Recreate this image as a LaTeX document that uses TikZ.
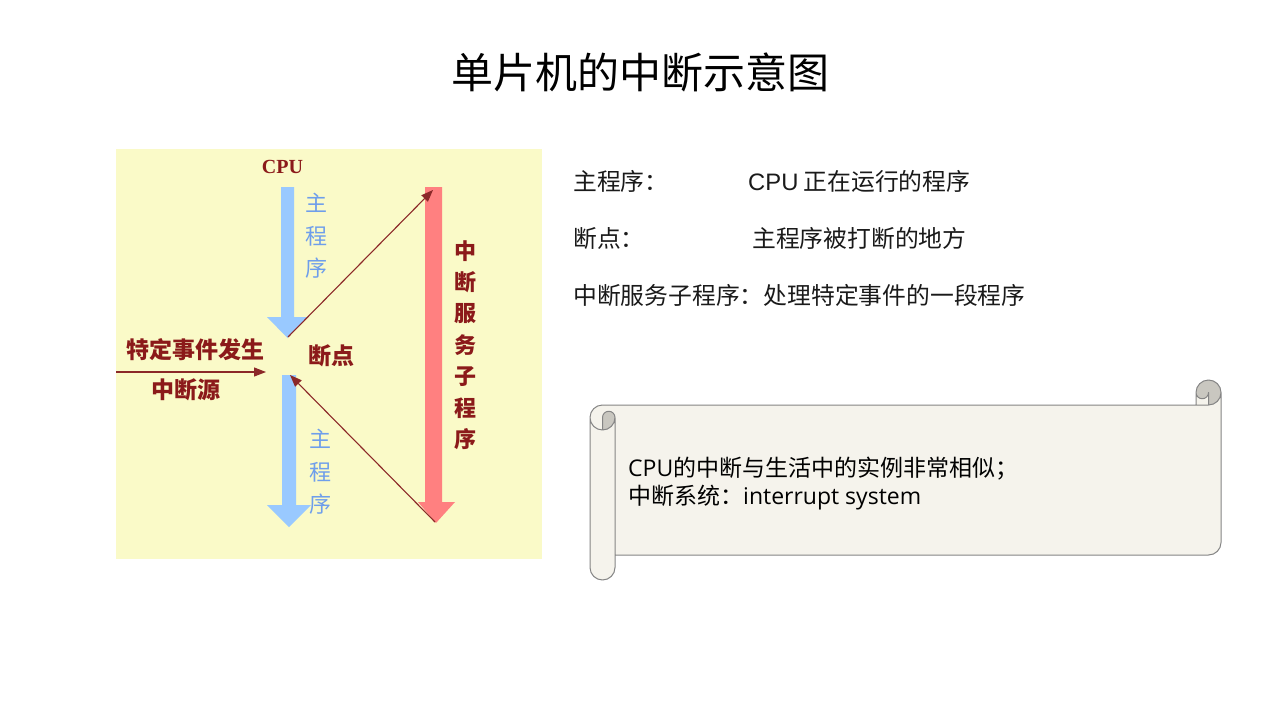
\documentclass[tikz,border=0pt]{standalone}
\usepackage{fontspec}
\setmainfont{Noto Sans CJK SC}
\newfontfamily\cpufont{Liberation Serif}
\newfontfamily\latfont{Open Sans}
\newfontfamily\arialfont{Liberation Sans}
\usetikzlibrary{arrows.meta}
\definecolor{panel}{HTML}{FAFAC8}
\definecolor{mainblue}{HTML}{99C9FF}
\definecolor{labblue}{HTML}{6E9EEB}
\definecolor{svcred}{HTML}{FF8080}
\definecolor{darkred}{HTML}{8B1A1A}
\definecolor{linered}{HTML}{8B2828}
\definecolor{scrollfill}{HTML}{F5F3EC}
\definecolor{scrolldark}{HTML}{C9C7C0}
\definecolor{scrollline}{HTML}{858585}
\definecolor{txt}{HTML}{1A1A1A}
\begin{document}
\begin{tikzpicture}[x=1pt,y=-1pt,
  bluelab/.style={text=labblue, align=center, inner sep=0pt, font=\fontsize{22}{32.5}\selectfont},
  redlab/.style={text=darkred, align=center, inner sep=0pt, font=\bfseries\fontsize{22}{31.4}\selectfont},
  evlab/.style={text=darkred, inner sep=0pt, font=\bfseries\fontsize{23}{23}\selectfont},
  rtext/.style={text=txt, anchor=west, inner sep=0pt, font=\fontsize{23.8}{24}\selectfont},
  sctext/.style={text=black, anchor=north west, align=left, inner sep=0pt, font=\fontsize{23}{28}\selectfont},
  conn/.style={draw=linered, line width=1.1pt, -{Triangle[length=12pt,width=9pt]}}]
\useasboundingbox (0,0) rectangle (1280,720);
\fill[white] (0,0) rectangle (1280,720);
% title
\node[inner sep=0pt, font=\fontsize{42}{42}\selectfont] (title) at (640,72) {单片机的中断示意图};
% panel
\fill[panel] (116,149) rectangle (542,559);
% blue arrows
\fill[mainblue] (281,187) -- (294,187) -- (294,317) -- (308,317) -- (287.5,338) -- (267,317) -- (281,317) -- cycle;
\fill[mainblue] (282,375) -- (296,375) -- (296,505) -- (311,505) -- (289,527) -- (267,505) -- (282,505) -- cycle;
% red arrow
\fill[svcred] (425,187) -- (442,187) -- (442,502) -- (455,502) -- (436,523) -- (418,502) -- (425,502) -- cycle;
% coordinates
\coordinate (bpA) at (288,337);
\coordinate (isrTop) at (433,190);
\coordinate (isrBot) at (435,522);
\coordinate (bpB) at (290,375);
\coordinate (srcL) at (116,372);
\coordinate (srcR) at (266,372);
\draw[conn] (bpA) -- (isrTop);
\draw[conn] (isrBot) -- (bpB);
\draw[conn] (srcL) -- (srcR);
% labels
\node[inner sep=0pt, text=darkred, font=\cpufont\bfseries\fontsize{20}{20}\selectfont] (cpu) at (282.5,167) {CPU};
\node[bluelab] (main1) at (316,236) {主\\程\\序};
\node[bluelab] (main2) at (320,472) {主\\程\\序};
\node[redlab] (isr) at (465,345) {中\\断\\服\\务\\子\\程\\序};
\node[evlab] (event) at (195,350) {特定事件发生};
\node[evlab] (src) at (186,390) {中断源};
\node[evlab] (bp) at (331,356) {断点};
% right texts
\node[rtext] (d1a) at (573,181) {主程序：};
\node[rtext] (d1b) at (748,181) {{\arialfont CPU} 正在运行的程序};
\node[rtext] (d2a) at (573,238) {断点：};
\node[rtext] (d2b) at (752,238) {主程序被打断的地方};
\node[rtext] (d3) at (573,295) {中断服务子程序：处理特定事件的一段程序};
% scroll
\fill[scrollfill] (1221,392.5) arc[start angle=0, delta angle=90, radius=12.5]
  -- (1208.5,392.5) arc[start angle=0, delta angle=180, radius=6.25]
  -- (1196,405) -- (602.5,405) arc[start angle=270, delta angle=-90, radius=12.5]
  -- (590,567.5) arc[start angle=180, delta angle=-180, radius=12.5]
  -- (615,555) -- (1208.5,555) arc[start angle=90, delta angle=-90, radius=12.5] -- cycle;
\fill[scrolldark] (602.5,430) arc[start angle=90, delta angle=-90, radius=12.5]
  arc[start angle=0, delta angle=-180, radius=6.25] -- cycle;
\fill[scrolldark] (1208.5,405) arc[start angle=90, delta angle=-270, radius=12.5]
  arc[start angle=180, delta angle=-180, radius=6.25] -- cycle;
\draw[scrollline, line width=1pt, line join=round]
  (590,417.5) arc[start angle=180, delta angle=90, radius=12.5]
  -- (1196,405) -- (1196,392.5) arc[start angle=180, delta angle=180, radius=12.5]
  -- (1221,542.5) arc[start angle=0, delta angle=90, radius=12.5]
  -- (615,555) -- (615,567.5) arc[start angle=0, delta angle=180, radius=12.5] -- cycle
  (1196,405) -- (1208.5,405) arc[start angle=90, delta angle=-90, radius=12.5]
  (1208.5,405) -- (1208.5,392.5) arc[start angle=0, delta angle=180, radius=6.25]
  (602.5,430) -- (602.5,417.5) arc[start angle=180, delta angle=180, radius=6.25]
  arc[start angle=0, delta angle=180, radius=12.5]
  (615,417.5) -- (615,555);
\node[sctext] (scr) at (628,457) {{\latfont CPU}的中断与生活中的实例非常相似；\\中断系统：{\latfont interrupt system}};
\end{tikzpicture}
\end{document}
